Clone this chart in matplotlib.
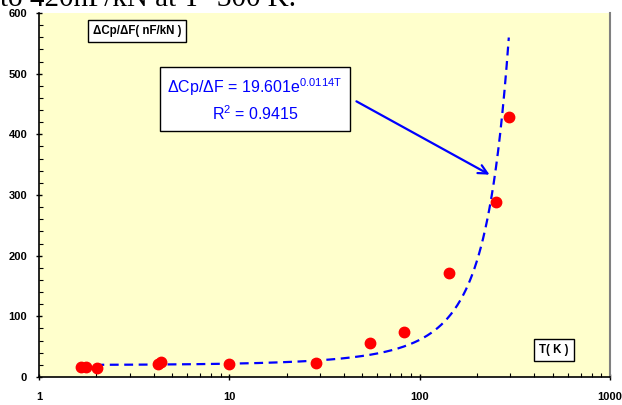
import numpy as np
import matplotlib.pyplot as plt
from matplotlib.ticker import LogLocator, MultipleLocator, FixedFormatter, FixedLocator

plt.rcParams['font.family'] = ['Liberation Sans', 'DejaVu Sans']
plt.rcParams['mathtext.fontset'] = 'custom'
plt.rcParams['mathtext.rm'] = 'Liberation Sans'

# measured points: T (K) and dCp/dF (nF/kN)
T = [1.66, 1.77, 2.02, 4.23, 4.39, 9.9, 28.7, 54.6, 82.4, 143, 251, 294]
dcp = [16.5, 16.5, 15.5, 21.5, 25, 22, 23, 56, 74, 172, 288, 429]

# trendline shown on the chart: 19.601 * exp(0.0114 T)
fit_a = 19.601
fit_b = 0.0114

x_ticks = [1, 10, 100, 1000]
x_labels = ['1', '10', '100', '1000']


def px(x, y):
    # pixel from top-left -> figure fraction
    return (x / 622, 1 - y / 405)


fig = plt.figure(figsize=(6.22, 4.05), dpi=100)
ax = fig.add_axes([39 / 622, 1 - 377 / 405, (610 - 39) / 622, (377 - 13) / 405])
ax.set_facecolor('#FFFFCC')

tt = np.logspace(np.log10(min(T)), np.log10(max(T)), 400)
ax.plot(tt, fit_a * np.exp(fit_b * tt), color='#0000FF', lw=1.6, ls=(0, (4, 2.5)))
ax.plot(T, dcp, 'o', color='#FF0000', ms=7.5, mec='#FF0000')

ax.set_xscale('log')
ax.set_xlim(1, 1000)
ax.set_ylim(0, 600)
ax.xaxis.set_major_locator(FixedLocator(x_ticks))
ax.xaxis.set_major_formatter(FixedFormatter(x_labels))
ax.xaxis.set_minor_locator(LogLocator(base=10, subs=np.arange(2, 10)))
ax.yaxis.set_major_locator(MultipleLocator(100))
ax.yaxis.set_minor_locator(MultipleLocator(20))

ax.tick_params(which='major', direction='inout', length=5, width=1, labelsize=8, colors='black')
ax.tick_params(which='minor', direction='in', length=3, width=0.8)
ax.tick_params(axis='x', which='major', pad=8)
ax.tick_params(axis='y', which='major', pad=6)
for lab in ax.get_xticklabels() + ax.get_yticklabels():
    lab.set_fontweight('bold')

ax.spines['left'].set_linewidth(1.2)
ax.spines['bottom'].set_linewidth(1.2)
ax.spines['top'].set_visible(False)
ax.spines['right'].set_color('#808080')
ax.spines['right'].set_linewidth(1.5)

# axis title boxes
fig.text(*px(137, 31), '\u0394Cp/\u0394F( nF/kN )', fontsize=8.3, fontweight='bold',
         ha='center', va='center',
         bbox=dict(boxstyle='square,pad=0.45', fc='white', ec='black', lw=1))
fig.text(*px(554, 350), 'T( K )', fontsize=8.3, fontweight='bold', ha='center', va='center',
         bbox=dict(boxstyle='square,pad=0.45', fc='white', ec='black', lw=1))

# equation box
fig.text(*px(255, 100), '\u0394Cp/\u0394F = 19.601e$^{\\mathrm{0.0114T}}$\nR$^{\\mathrm{2}}$ = 0.9415',
         fontsize=11.5, color='#0000FF', ha='center', va='center', linespacing=1.4,
         bbox=dict(boxstyle='square,pad=0.45', fc='white', ec='black', lw=1))

ax.annotate('', xy=px(492, 176), xycoords='figure fraction',
            xytext=px(354, 100), textcoords='figure fraction',
            arrowprops=dict(arrowstyle='->', color='#0000FF', lw=1.6, mutation_scale=16))

# text of the page above the chart, cut at the top
fig.text(0.0, 1 - 6 / 405, 'to 420nF/kN at T=300 K.', family=['Liberation Serif'],
         fontsize=21, va='baseline', ha='left')

fig.savefig('out.png', dpi=100)
